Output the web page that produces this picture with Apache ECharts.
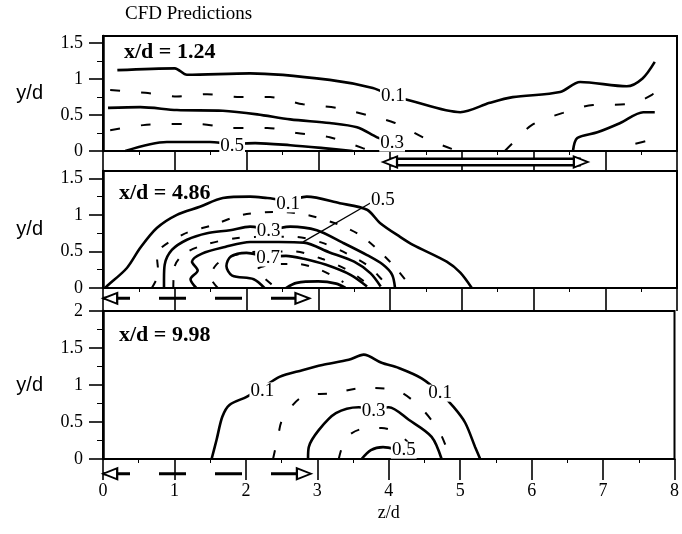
<!DOCTYPE html>
<html>
<head>
<meta charset="utf-8">
<script src="https://cdn.jsdelivr.net/npm/echarts@6/dist/echarts.min.js"></script>
<style>
  html, body { margin: 0; padding: 0; background: #fff; }
  #chart { width: 682px; height: 534px; }
</style>
</head>
<body>
<div id="chart"></div>
<script>
// ---- panel 1 : x/d = 1.24 ----
const p1_c01 = [[0.2,1.125],[1.0,1.15],[1.17,1.06],[2.05,1.08],[3.16,0.99],[3.76,0.875],[4.04,0.76],[4.25,0.71],[4.98,0.54],[5.39,0.67],[5.71,0.75],[6.37,0.82],[6.65,0.96],[7.3,0.9],[7.52,1.01],[7.69,1.24]];
const p1_c02a = [[0.1,0.85],[0.59,0.81],[1.03,0.76],[1.45,0.79],[1.91,0.75],[2.33,0.75],[2.79,0.65],[3.26,0.6],[3.68,0.5],[4.07,0.39],[4.46,0.19],[4.86,0.03],[5.0,0]];
const p1_c02b = [[5.6,0],[5.71,0.11],[5.99,0.37],[6.41,0.53],[6.83,0.64],[7.28,0.65],[7.65,0.78],[7.72,0.92]];
const p1_c03a = [[0.07,0.6],[0.52,0.61],[1.03,0.57],[1.67,0.56],[2.15,0.51],[2.61,0.44],[3.16,0.39],[3.54,0.33],[3.82,0.19],[4.03,0.11],[4.2,0]];
const p1_c03b = [[6.55,0],[6.61,0.18],[6.89,0.26],[7.21,0.39],[7.53,0.54],[7.69,0.54]];
const p1_c04a = [[0.1,0.29],[0.56,0.36],[0.93,0.375],[1.35,0.375],[1.77,0.32],[2.29,0.32],[2.7,0.25],[3.16,0.19],[3.62,0.04],[3.7,0]];
const p1_c04b = [[7.42,0.1],[7.62,0.15]];
const p1_c05 = [[0.31,0],[0.89,0.125],[1.49,0.125],[1.8,0.1],[2.12,0.11],[2.61,0.08],[3.07,0.04],[3.48,0]];
const p1_labels = [{name:'0.1',value:[4.04,0.76]},{name:'0.3',value:[4.03,0.11]},{name:'0.5',value:[1.8,0.07]}];

// ---- panel 2 : x/d = 4.86 ----
const p2_c01 = [[0.03,0],[0.06,0.03],[0.33,0.27],[0.52,0.55],[0.75,0.82],[1.03,1.0],[1.35,1.11],[1.67,1.23],[2.05,1.25],[2.29,1.23],[2.58,1.2],[2.84,1.25],[3.3,1.16],[3.68,1.07],[3.86,0.89],[4.14,0.7],[4.32,0.59],[4.79,0.36],[4.98,0.21],[5.14,0]];
const p2_c02 = [[0.68,0],[0.77,0.2],[0.75,0.45],[1.11,0.73],[1.53,0.86],[1.94,1.0],[2.4,1.04],[2.84,1.0],[3.3,0.86],[3.62,0.7],[4.0,0.36],[4.25,0.07],[4.3,0]];
const p2_c03 = [[0.85,0],[0.85,0.12],[0.86,0.32],[0.96,0.52],[1.17,0.66],[1.45,0.75],[1.77,0.79],[2.05,0.84],[2.33,0.8],[2.61,0.84],[2.98,0.79],[3.34,0.62],[3.68,0.45],[3.9,0.32],[4.03,0.18],[4.07,0]];
const p2_c04 = [[0.98,0],[1.0,0.3],[1.15,0.48],[1.45,0.6],[1.85,0.68],[2.25,0.7],[2.65,0.7],[3.05,0.62],[3.4,0.47],[3.7,0.3],[3.9,0.1],[3.98,0]];
const p2_c05 = [[1.3,0],[1.22,0.12],[1.32,0.24],[1.24,0.36],[1.38,0.47],[1.7,0.56],[2.05,0.63],[2.45,0.63],[2.8,0.62],[3.15,0.49],[3.5,0.36],[3.73,0.2],[3.87,0.02]];
const p2_c06 = [[1.6,0],[1.5,0.15],[1.58,0.32],[1.8,0.44],[2.2,0.5],[2.65,0.5],[3.05,0.4],[3.4,0.25],[3.65,0.08],[3.7,0]];
const p2_c07 = [[2.25,0],[2.1,0.12],[1.8,0.17],[1.72,0.3],[1.78,0.43],[2.0,0.48],[2.3,0.43],[2.55,0.44],[2.8,0.4],[3.1,0.32],[3.45,0.18],[3.68,0.02]];
const p2_c08 = [[2.35,0.05],[2.15,0.25],[2.35,0.32],[2.7,0.33],[3.05,0.24],[3.35,0.08]];
const p2_c09 = [[2.55,0],[2.7,0.07],[3.0,0.09],[3.25,0.06],[3.38,0]];
const p2_leader = [[2.79,0.63],[3.74,1.17]];
const p2_labels = [{name:'0.1',value:[2.58,1.15]},{name:'0.3',value:[2.31,0.78]},{name:'0.7',value:[2.3,0.41]},{name:'0.5',value:[3.9,1.21]}];

// ---- panel 3 : x/d = 9.98 ----
const p3_c01 = [[1.52,0],[1.59,0.26],[1.67,0.57],[1.77,0.73],[2.01,0.84],[2.23,0.96],[2.47,1.11],[2.79,1.2],[3.07,1.27],[3.44,1.34],[3.65,1.41],[3.9,1.3],[4.14,1.23],[4.46,1.09],[4.72,0.89],[4.91,0.7],[5.07,0.49],[5.21,0.16],[5.28,0]];
const p3_c02 = [[2.38,0],[2.45,0.3],[2.51,0.53],[2.79,0.84],[3.23,0.89],[3.65,0.96],[4.1,0.93],[4.45,0.69],[4.72,0.35],[4.86,0]];
const p3_c03 = [[2.87,0],[2.88,0.16],[3.02,0.39],[3.26,0.62],[3.58,0.7],[3.79,0.67],[4.0,0.7],[4.28,0.53],[4.6,0.3],[4.74,0]];
const p3_c04 = [[3.3,0],[3.4,0.28],[3.6,0.4],[3.9,0.42],[4.15,0.33],[4.38,0.1],[4.42,0]];
const p3_c05 = [[3.62,0],[3.75,0.12],[3.92,0.16],[4.1,0.13]];
const p3_labels = [{name:'0.1',value:[2.23,0.92]},{name:'0.1',value:[4.72,0.89]},{name:'0.3',value:[3.79,0.65]},{name:'0.5',value:[4.21,0.12]}];

// arrows in the strips under each panel: [from, to] in z/d
const arrow1 = [3.9, 6.76];
const arrow2 = [0, 2.88];
const arrow3 = [0, 2.9];

const xTicks = [0, 8, 1];
const yMax = [1.6, 1.6, 2];

const SERIF = '"Liberation Serif", "DejaVu Serif", serif';
const SANS = '"Liberation Sans", Arial, sans-serif';

const myChart = echarts.init(document.getElementById('chart'));

function contour(idx, data, dash) {
  return {
    type: 'line', xAxisIndex: idx, yAxisIndex: idx, data: data,
    symbol: 'none', smooth: 0.3, silent: true, z: 3,
    lineStyle: { color: '#000', width: dash ? 2 : 2.6, type: dash || 'solid' }
  };
}

function contourLabels(idx, data) {
  return {
    type: 'scatter', xAxisIndex: idx, yAxisIndex: idx, data: data,
    symbol: 'circle', symbolSize: 1, itemStyle: { color: 'transparent', opacity: 1 }, silent: true, z: 6,
    label: {
      show: true, position: 'inside', formatter: '{b}', fontFamily: SERIF, fontSize: 19, opacity: 1,
      color: '#000', textBorderWidth: 0, backgroundColor: '#fff', padding: [0, 1], lineHeight: 17
    }
  };
}

function arrowSeries(idx, ends, y, hollow) {
  const a = ends[0], b = ends[1];
  const out = [];
  if (hollow) {
    out.push({ type: 'line', xAxisIndex: idx, yAxisIndex: idx, data: [[a + 0.1, y], [b - 0.1, y]],
      symbol: 'none', silent: true, z: 3, lineStyle: { color: '#000', width: 9 } });
    out.push({ type: 'line', xAxisIndex: idx, yAxisIndex: idx, data: [[a + 0.1, y], [b - 0.1, y]],
      symbol: 'none', silent: true, z: 4, lineStyle: { color: '#fff', width: 4 } });
  } else {
    out.push({ type: 'line', xAxisIndex: idx, yAxisIndex: idx, data: [[a, y], [b, y]],
      symbol: 'none', silent: true, z: 3, lineStyle: { color: '#000', width: 3, type: [27, 29] } });
  }
  out.push({
    type: 'scatter', xAxisIndex: idx, yAxisIndex: idx, silent: true, z: 5,
    symbol: 'triangle', symbolSize: [11, 14],
    itemStyle: { color: '#fff', borderColor: '#000', borderWidth: 2, opacity: 1 },
    data: [{ value: [a + 0.1, y], symbolRotate: 90 }, { value: [b - 0.1, y], symbolRotate: -90 }]
  });
  return out;
}

// grids: 0 panel1, 1 strip, 2 panel2, 3 strip, 4 panel3, 5 strip
const gridBox = [[36, 115], [151, 20], [171, 117], [288, 23], [311, 148], [459, 21]];
const grids = gridBox.map(function (g, i) {
  const panel = i % 2 === 0;
  return {
    left: 103, right: 5, top: g[0], height: g[1],
    show: panel, borderColor: '#000', borderWidth: 2, backgroundColor: 'transparent'
  };
});

const xAxes = gridBox.map(function (g, i) {
  const panel = i % 2 === 0;
  const stripLen = i < 5 ? gridBox[i + 1][1] : 0;
  return {
    type: 'value', gridIndex: i, min: xTicks[0], max: xTicks[1], interval: xTicks[2],
    show: panel,
    name: i === 4 ? 'z/d' : '', nameLocation: 'middle', nameGap: 45,
    nameTextStyle: { fontFamily: SERIF, fontSize: 18, color: '#000' },
    axisLine: { show: true, onZero: false, lineStyle: { color: '#000', width: 2 } },
    axisTick: { show: true, inside: false, length: stripLen, lineStyle: { color: '#000', width: 1.6 } },
    minorTick: { show: true, splitNumber: 2, length: 4, lineStyle: { color: '#000', width: 1 } },
    splitLine: { show: false },
    axisLabel: { show: i === 4, margin: 23, fontFamily: SERIF, fontSize: 18, color: '#000' }
  };
});

const yNamePad = [24, 0, 10, 0, 6, 0];
const yAxes = gridBox.map(function (g, i) {
  const panel = i % 2 === 0;
  const max = panel ? yMax[i / 2] : 1;
  const vals = [];
  for (let v = 0; v <= max + 1e-9; v += 0.5) vals.push(v);
  return {
    type: 'value', gridIndex: i, min: 0, max: max, interval: 0.5,
    show: panel,
    name: 'y/d', nameLocation: 'middle', nameRotate: 0, nameGap: 60,
    nameTextStyle: { fontFamily: SANS, fontSize: 20, color: '#000', padding: [yNamePad[i], 0, 0, 0] },
    axisLine: { show: true, lineStyle: { color: '#000', width: 2.5 } },
    axisTick: { show: true, inside: false, length: 14, customValues: vals, lineStyle: { color: '#000', width: 1.6 } },
    minorTick: { show: true, splitNumber: 2, length: 6, lineStyle: { color: '#000', width: 1 } },
    splitLine: { show: false },
    axisLabel: { show: true, margin: 20, customValues: vals, fontFamily: SERIF, fontSize: 18, color: '#000' }
  };
});

const d1 = [10, 21], d2 = [8, 14], d3 = [9, 20];
const series = [
  contour(0, p1_c01), contour(0, p1_c02a, d1), contour(0, p1_c02b, d1),
  contour(0, p1_c03a), contour(0, p1_c03b), contour(0, p1_c04a, d1), contour(0, p1_c04b, d1),
  contour(0, p1_c05), contourLabels(0, p1_labels),

  contour(2, p2_c01), contour(2, p2_c02, d2), contour(2, p2_c03), contour(2, p2_c04, d2),
  contour(2, p2_c05), contour(2, p2_c06, d2), contour(2, p2_c07), contour(2, p2_c08, d2),
  contour(2, p2_c09),
  { type: 'line', xAxisIndex: 2, yAxisIndex: 2, data: p2_leader, symbol: 'none', silent: true, z: 4,
    lineStyle: { color: '#000', width: 1.3 } },
  contourLabels(2, p2_labels),

  contour(4, p3_c01), contour(4, p3_c02, d3), contour(4, p3_c03), contour(4, p3_c04, d3),
  contour(4, p3_c05), contourLabels(4, p3_labels)
].concat(
  arrowSeries(1, arrow1, 0.45, true),
  arrowSeries(3, arrow2, 0.55, false),
  arrowSeries(5, arrow3, 0.3, false)
);

const option = {
  backgroundColor: '#fff',
  animation: false,
  title: [
    { text: 'CFD Predictions', left: 125, top: 5, padding: 0,
      textStyle: { fontFamily: SERIF, fontWeight: 'normal', fontSize: 19, color: '#000' } },
    { text: 'x/d = 1.24', left: 124, top: 41, padding: 0,
      textStyle: { fontFamily: SERIF, fontWeight: 'bold', fontSize: 22, color: '#000' } },
    { text: 'x/d = 4.86', left: 119, top: 182, padding: 0,
      textStyle: { fontFamily: SERIF, fontWeight: 'bold', fontSize: 22, color: '#000' } },
    { text: 'x/d = 9.98', left: 119, top: 324, padding: 0,
      textStyle: { fontFamily: SERIF, fontWeight: 'bold', fontSize: 22, color: '#000' } }
  ],
  grid: grids,
  xAxis: xAxes,
  yAxis: yAxes,
  series: series
};
myChart.setOption(option);
</script>
</body>
</html>
